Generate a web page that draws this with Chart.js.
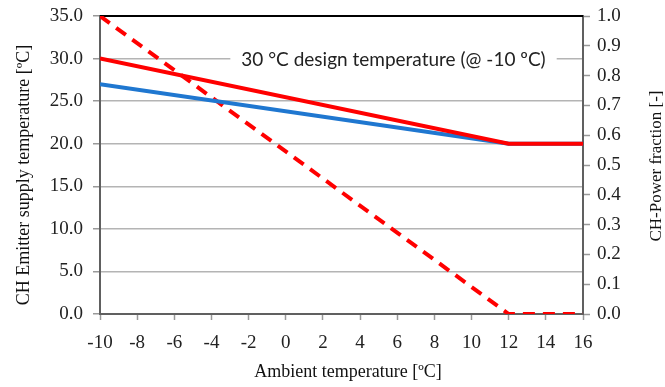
<!DOCTYPE html>
<html>
<head>
<meta charset="utf-8">
<title>CH emitter supply temperature</title>
<script src="https://cdn.jsdelivr.net/npm/chart.js@4.4.1/dist/chart.umd.min.js"></script>
<style>
  html, body { margin: 0; padding: 0; background: #fff; }
  #wrap { width: 665px; height: 387px; }
</style>
</head>
<body>
<div id="wrap"><canvas id="myChart"></canvas></div>
<script>
// ambient temperature breakpoints [°C]
const ambient = [-10, 12, 16];
// supply temperatures [°C] (left axis)
const supplyBlue = [27, 20, 20];
const supplyRed = [30, 20, 20];
// CH power fraction [-] (right axis)
const powerFraction = [1.0, 0.0, 0.0];

const xTicks = [-10, 16, 2];      // min, max, step
const leftTicks = [0, 35, 5];
const rightTicks = [0, 1, 0.1];

const serif = "'Liberation Serif', 'Times New Roman', serif";
const note = '30 °C design temperature (@ -10 ºC)';

Chart.defaults.font.family = serif;
Chart.defaults.font.size = 19;
Chart.defaults.color = '#222';

function pts(ys) {
    return ambient.map((x, i) => ({x: x, y: ys[i]}));
}

// titles + note box, drawn on the canvas
const extras = {
    id: 'extras',
    beforeDatasetsDraw(chart) {
        const ctx = chart.ctx;
        const y = chart.scales.y;
        const x = chart.scales.x;
        const a = chart.chartArea;
        // note on the 30 grid line
        const ny = y.getPixelForValue(30);
        const nx = x.getPixelForValue(5.8);
        ctx.save();
        ctx.font = '19px Lato, "Open Sans", sans-serif';
        const w = ctx.measureText(note).width;
        ctx.fillStyle = '#fff';
        ctx.fillRect(nx - w / 2 - 11, ny - 12, w + 22, 24);
        ctx.fillStyle = '#222';
        ctx.textAlign = 'center';
        ctx.textBaseline = 'middle';
        ctx.fillText(note, nx, ny + 1);
        // top border
        ctx.strokeStyle = '#000';
        ctx.lineWidth = 2;
        ctx.beginPath();
        ctx.moveTo(a.left, a.top);
        ctx.lineTo(a.right, a.top);
        ctx.stroke();
        ctx.restore();
    },
    afterDraw(chart) {
        const ctx = chart.ctx;
        ctx.save();
        ctx.fillStyle = '#111';
        ctx.font = '18px ' + serif;
        ctx.textAlign = 'center';
        ctx.textBaseline = 'middle';
        ctx.translate(24, 175);
        ctx.rotate(-Math.PI / 2);
        ctx.fillText('CH Emitter supply temperature [ºC]', 0, 0);
        ctx.restore();

        ctx.save();
        ctx.fillStyle = '#111';
        ctx.font = '17px ' + serif;
        ctx.textAlign = 'center';
        ctx.textBaseline = 'middle';
        ctx.translate(657, 166);
        ctx.rotate(-Math.PI / 2);
        ctx.fillText('CH-Power fraction [-]', 0, 0);
        ctx.restore();

        ctx.save();
        ctx.fillStyle = '#111';
        ctx.font = '18px ' + serif;
        ctx.textAlign = 'center';
        ctx.textBaseline = 'middle';
        ctx.fillText('Ambient temperature [ºC]', 348, 372);
        ctx.restore();
    }
};

const data = {
    datasets: [
        {
            label: 'supply red',
            data: pts(supplyRed),
            borderColor: '#ff0000',
            borderWidth: 4,
            order: 0,
            yAxisID: 'y'
        },
        {
            label: 'supply blue',
            data: pts(supplyBlue),
            borderColor: '#1f77d0',
            borderWidth: 4,
            order: 1,
            yAxisID: 'y'
        },
        {
            label: 'power fraction',
            data: pts(powerFraction),
            borderColor: '#ff0000',
            borderWidth: 4,
            borderDash: [12, 8],
            order: 2,
            yAxisID: 'y1'
        }
    ]
};

const tickFont = {family: serif, size: 19};

// fixed axis boxes so the plot sits where the original does
function fitY(w) {
    return function (s) {
        s.width = w;
        s.paddingTop = 4;
        s.paddingBottom = 4;
    };
}

const config = {
    type: 'line',
    data: data,
    options: {
        responsive: true,
        maintainAspectRatio: false,
        animation: false,
        elements: {point: {radius: 0}, line: {tension: 0, borderCapStyle: 'butt'}},
        layout: {padding: {top: 16, left: 0, right: 0, bottom: 0}},
        plugins: {legend: {display: false}, tooltip: {enabled: false}},
        scales: {
            x: {
                type: 'linear',
                min: xTicks[0],
                max: xTicks[1],
                ticks: {stepSize: xTicks[2], font: tickFont, color: '#222', padding: 12, maxRotation: 0},
                grid: {drawOnChartArea: false, tickLength: 6, tickColor: '#999', tickWidth: 1.5},
                border: {color: '#606060', width: 2},
                afterFit(s) { s.height = 73; }
            },
            y: {
                position: 'left',
                min: leftTicks[0],
                max: leftTicks[1],
                ticks: {stepSize: leftTicks[2], font: tickFont, color: '#222', padding: 10,
                    callback: v => v.toFixed(1)},
                grid: {color: '#b4b4b4', lineWidth: 1.5, tickLength: 7, tickColor: '#999'},
                border: {color: '#606060', width: 2},
                afterFit: fitY(100)
            },
            y1: {
                position: 'right',
                min: rightTicks[0],
                max: rightTicks[1],
                ticks: {stepSize: rightTicks[2], font: tickFont, color: '#222', padding: 7,
                    callback: v => v.toFixed(1)},
                grid: {drawOnChartArea: false, tickLength: 7, tickColor: '#999', tickWidth: 1.5},
                border: {color: '#606060', width: 2},
                afterFit: fitY(82)
            }
        }
    },
    plugins: [extras]
};

const myChart = new Chart(document.getElementById('myChart').getContext('2d'), config);
</script>
</body>
</html>
